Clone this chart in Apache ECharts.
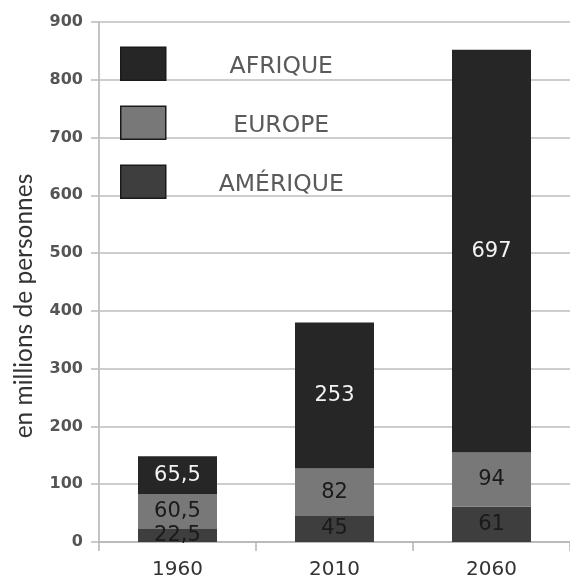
<!DOCTYPE html>
<html><head><meta charset="utf-8">
<script src="https://cdn.jsdelivr.net/npm/echarts@6/dist/echarts.min.js"></script>
<style>html,body{margin:0;padding:0;background:#fff}#c{width:570px;height:584px}</style>
</head><body><div id="c"></div>
<script>
var categories = ['1960', '2010', '2060'];
var amerique = [22.5, 45, 61];
var europe = [60.5, 82, 94];
var afrique = [65.5, 253, 697];
var seriesNames = ['AFRIQUE', 'EUROPE', 'AMÉRIQUE'];
var yTicks = [0, 100, 200, 300, 400, 500, 600, 700, 800, 900];

var font = 'DejaVu Sans';
function fmt(p){ return String(p.value).replace('.', ','); }
function lbl(color){
  return {show:true, position:'inside', formatter:fmt, color:color, fontFamily:font, fontSize:21};
}
var chart = echarts.init(document.getElementById('c'));
chart.setOption({
  animation:false,
  grid:{left:99, top:22, bottom:42, width:476},
  legend:{
    orient:'vertical', left:120, top:46.5, padding:0, itemWidth:45, itemHeight:33, itemGap:24.5,
    icon:'rect',
    data:[seriesNames[0], seriesNames[1], seriesNames[2]],
    itemStyle:{borderColor:'#1a1a1a', borderWidth:1.5},
    selectedMode:false,
    formatter:function(n){ return '{a|'+n+'}'; },
    textStyle:{rich:{a:{width:221, align:'center', color:'#5a5a5a', fontFamily:font, fontSize:23.5, lineHeight:24, padding:[7,0,0,0]}}}
  },
  xAxis:{
    type:'category', data:categories,
    axisLine:{lineStyle:{color:'#b4b4b4', width:1.5}},
    axisTick:{show:true, length:9, lineStyle:{color:'#b4b4b4', width:1.5}},
    axisLabel:{color:'#333', fontFamily:font, fontSize:20, margin:18}
  },
  yAxis:{
    type:'value', min:0, max:900, interval:100,
    name:'en millions de personnes', nameLocation:'middle', nameGap:62, nameRotate:90,
    nameTextStyle:{color:'#333', fontFamily:'Lato', fontSize:24.5, padding:[0,48,0,0]},
    axisLine:{show:true, lineStyle:{color:'#c4c4c4', width:2}},
    axisTick:{show:true, length:8, lineStyle:{color:'#bbb', width:1.5}},
    axisLabel:{color:'#555', fontFamily:font, fontSize:16, fontWeight:'bold', margin:16,
      formatter:function(v){ return yTicks.indexOf(v) >= 0 ? String(v) : ''; }},
    splitLine:{lineStyle:{color:'#bdbdbd', width:1.5}}
  },
  series:[
    {name:seriesNames[2], type:'bar', stack:'t', data:amerique, barWidth:79,
      itemStyle:{color:'#3e3e3e'}, label:lbl('#1a1a1a')},
    {name:seriesNames[1], type:'bar', stack:'t', data:europe, barWidth:79,
      itemStyle:{color:'#787878'}, label:lbl('#1a1a1a')},
    {name:seriesNames[0], type:'bar', stack:'t', data:afrique, barWidth:79,
      itemStyle:{color:'#262626'}, label:lbl('#f2f2f2')}
  ]
});
</script></body></html>
